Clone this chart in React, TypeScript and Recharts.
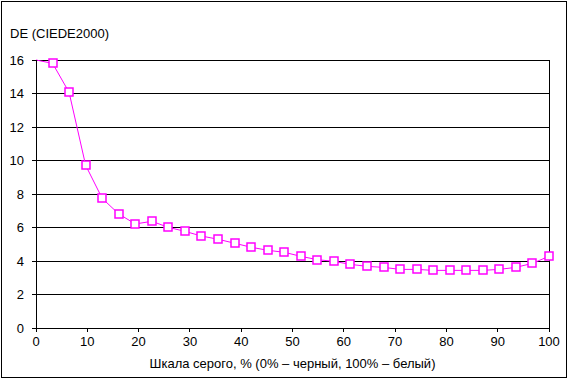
// DE (CIEDE2000) по шкале серого — line chart с квадратными маркерами

import { LineChart, Line, XAxis, YAxis, CartesianGrid, ReferenceLine } from "recharts";

const grayLevels = [
  0, 3.23, 6.45, 9.68, 12.9, 16.13, 19.35, 22.58, 25.81, 29.03, 32.26, 35.48, 38.71, 41.94, 45.16, 48.39,
  51.61, 54.84, 58.06, 61.29, 64.52, 67.74, 70.97, 74.19, 77.42, 80.65, 83.87, 87.1, 90.32, 93.55, 96.77, 100,
];
const deValues = [
  16.0, 15.8, 14.07, 9.71, 7.74, 6.81, 6.21, 6.37, 6.01, 5.77, 5.49, 5.3, 5.06, 4.82, 4.64, 4.52,
  4.28, 4.08, 3.98, 3.8, 3.68, 3.62, 3.5, 3.5, 3.44, 3.44, 3.44, 3.44, 3.5, 3.62, 3.86, 4.28,
];
const xTicks = [0, 10, 20, 30, 40, 50, 60, 70, 80, 90, 100];
const yTicks = [0, 2, 4, 6, 8, 10, 12, 14, 16];

const yTitle = "DE (CIEDE2000)";
const xTitle = "Шкала серого, % (0% – черный, 100% – белый)";

const FONT = "'Liberation Sans', Arial, sans-serif";
const MAGENTA = "#ff00ff";

const chartData = grayLevels.map((g, i) => ({ gray: g, de: deValues[i] }));

function SquareDot(props: any) {
  const { cx, cy, index } = props;
  if (index === 0 || cx == null || cy == null) return <g key={`d${index}`} />;
  return (
    <rect
      key={`d${index}`}
      x={Math.round(cx) - 4}
      y={Math.round(cy) - 4}
      width={8}
      height={8}
      fill="#fff"
      stroke={MAGENTA}
      strokeWidth={1.5}
    />
  );
}

export default function App() {
  const tick = { fontSize: 13, fill: "#000", fontFamily: FONT };
  const crisp = { stroke: "#000", shapeRendering: "crispEdges" };
  return (
    <div style={{ position: "absolute", left: 0, top: 0, width: 568, height: 379, background: "#fff" }}>
      <div
        style={{
          position: "absolute",
          left: 1,
          top: 1,
          width: 564,
          height: 375,
          border: "1px solid #000",
        }}
      />
      <div
        style={{
          position: "absolute",
          left: 10,
          top: 26,
          fontFamily: FONT,
          fontSize: 13,
          color: "#000",
          whiteSpace: "nowrap",
        }}
      >
        {yTitle}
      </div>
      <LineChart width={568} height={379} data={chartData} margin={{ top: 60, right: 19, left: 0, bottom: 6 }}>
        <CartesianGrid horizontal vertical={false} stroke="#000" strokeWidth={1} shapeRendering="crispEdges" />
        <XAxis
          dataKey="gray"
          type="number"
          domain={[0, 100]}
          ticks={xTicks}
          height={45}
          tick={tick}
          tickSize={4}
          tickMargin={5}
          axisLine={crisp}
          tickLine={crisp}
          label={{ value: xTitle, position: "insideBottom", offset: 5, fontSize: 13, fill: "#000", fontFamily: FONT }}
        />
        <YAxis
          type="number"
          domain={[0, 16]}
          ticks={yTicks}
          width={36}
          tick={tick}
          tickSize={4}
          tickMargin={8}
          axisLine={crisp}
          tickLine={crisp}
        />
        <ReferenceLine x={100} stroke="#000" shapeRendering="crispEdges" />
        <Line
          type="linear"
          dataKey="de"
          stroke={MAGENTA}
          strokeWidth={1}
          dot={SquareDot}
          activeDot={false}
          isAnimationActive={false}
        />
      </LineChart>
    </div>
  );
}
